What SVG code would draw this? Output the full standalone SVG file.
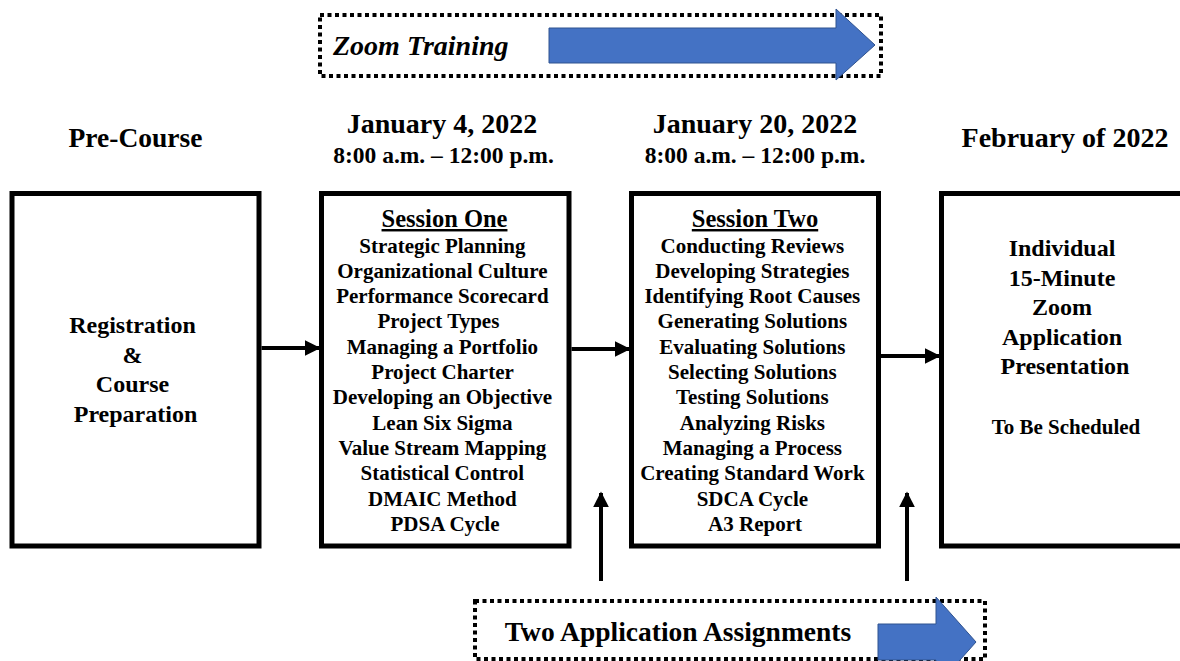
<svg xmlns="http://www.w3.org/2000/svg" width="1180" height="661" viewBox="0 0 1180 661">
<defs>
<style>
.t{font-family:"Liberation Serif","Times New Roman",serif;font-weight:bold;fill:#000;text-anchor:middle}
.box{fill:#fff;stroke:#000;stroke-width:5}
.dot{fill:none;stroke:#000;stroke-width:4;stroke-dasharray:4 3.5}
.blue{fill:#4472C4;stroke:#2F528F;stroke-width:1}
.con{stroke:#000;stroke-width:4;fill:none}
</style>
<marker id="ah" viewBox="0 0 10 10" refX="9" refY="5" markerWidth="4" markerHeight="4" markerUnits="strokeWidth" orient="auto">
<path d="M0,0 L10,5 L0,10 z" fill="#000"/>
</marker>
</defs>
<rect width="1180" height="661" fill="#fff"/>

<g id="zoom-training">
<rect class="dot" x="320" y="15" width="561" height="61"/>
<path class="blue" d="M549,28 L836,28 L836,9 L875,45 L836,80 L836,63 L549,63 z"/>
<text class="t" x="333" y="55" font-size="28" font-style="italic" style="text-anchor:start">Zoom Training</text>
</g>

<g id="header-precourse"><text class="t" x="135.5" y="147" font-size="27.5">Pre-Course</text></g>
<g id="header-jan4">
<text class="t" x="442" y="133" font-size="28">January 4, 2022</text>
<text class="t" x="443.5" y="163" font-size="23.5">8:00 a.m. – 12:00 p.m.</text>
</g>
<g id="header-jan20">
<text class="t" x="755" y="133" font-size="28">January 20, 2022</text>
<text class="t" x="755" y="163" font-size="23.5">8:00 a.m. – 12:00 p.m.</text>
</g>
<g id="header-feb"><text class="t" x="1065" y="147" font-size="28">February of 2022</text></g>

<g id="box-registration">
<rect class="box" x="12" y="193.5" width="247" height="352.5"/>
<text class="t" font-size="24">
<tspan x="135.5" y="333">Registration</tspan>
<tspan x="135.5" y="362.5">&amp;</tspan>
<tspan x="135.5" y="392">Course</tspan>
<tspan x="135.5" y="421.5">Preparation</tspan>
</text>
</g>

<g id="box-session-one">
<rect class="box" x="321.5" y="193.5" width="247.5" height="352.5"/>
<text class="t" x="444.5" y="227" font-size="24.5" text-decoration="underline">Session One</text>
<text class="t" font-size="21">
<tspan x="445" y="252.5">Strategic Planning</tspan>
<tspan x="445" y="277.8">Organizational Culture</tspan>
<tspan x="445" y="303.1">Performance Scorecard</tspan>
<tspan x="441" y="328.4">Project Types</tspan>
<tspan x="445" y="353.7">Managing a Portfolio</tspan>
<tspan x="445" y="379">Project Charter</tspan>
<tspan x="445" y="404.3">Developing an Objective</tspan>
<tspan x="445" y="429.6">Lean Six Sigma</tspan>
<tspan x="445" y="454.9">Value Stream Mapping</tspan>
<tspan x="445" y="480.2">Statistical Control</tspan>
<tspan x="445" y="505.5">DMAIC Method</tspan>
<tspan x="445" y="530.8">PDSA Cycle</tspan>
</text>
</g>

<g id="box-session-two">
<rect class="box" x="631.5" y="193.5" width="247" height="352.5"/>
<text class="t" x="755" y="227" font-size="24.5" text-decoration="underline">Session Two</text>
<text class="t" font-size="21">
<tspan x="755" y="252.5">Conducting Reviews</tspan>
<tspan x="755" y="277.8">Developing Strategies</tspan>
<tspan x="755" y="303.1">Identifying Root Causes</tspan>
<tspan x="755" y="328.4">Generating Solutions</tspan>
<tspan x="755" y="353.7">Evaluating Solutions</tspan>
<tspan x="755" y="379">Selecting Solutions</tspan>
<tspan x="755" y="404.3">Testing Solutions</tspan>
<tspan x="755" y="429.6">Analyzing Risks</tspan>
<tspan x="755" y="454.9">Managing a Process</tspan>
<tspan x="755" y="480.2">Creating Standard Work</tspan>
<tspan x="755" y="505.5">SDCA Cycle</tspan>
<tspan x="755" y="530.8">A3 Report</tspan>
</text>
</g>

<g id="box-presentation">
<rect class="box" x="941.5" y="193.5" width="260" height="352.5"/>
<text class="t" font-size="24">
<tspan x="1065" y="256">Individual</tspan>
<tspan x="1065" y="285.5">15-Minute</tspan>
<tspan x="1065" y="315">Zoom</tspan>
<tspan x="1065" y="344.5">Application</tspan>
<tspan x="1065" y="374">Presentation</tspan>
</text>
<text class="t" x="1066" y="434" font-size="21">To Be Scheduled</text>
</g>

<g id="assignments">
<rect class="dot" x="475" y="601" width="510" height="58"/>
<path class="blue" d="M878,624 L936,624 L936,597 L976,642 L936,687 L936,660 L878,660 z"/>
<text class="t" x="678" y="641" font-size="27.5">Two Application Assignments</text>
</g>

<g id="connectors">
<line class="con" x1="261.5" y1="348" x2="319" y2="348" marker-end="url(#ah)"/>
<line class="con" x1="571.5" y1="349" x2="629" y2="349" marker-end="url(#ah)"/>
<line class="con" x1="881" y1="356" x2="939" y2="356" marker-end="url(#ah)"/>
<line class="con" x1="601" y1="581" x2="601" y2="493" marker-end="url(#ah)"/>
<line class="con" x1="907" y1="581" x2="907" y2="493" marker-end="url(#ah)"/>
</g>
</svg>
